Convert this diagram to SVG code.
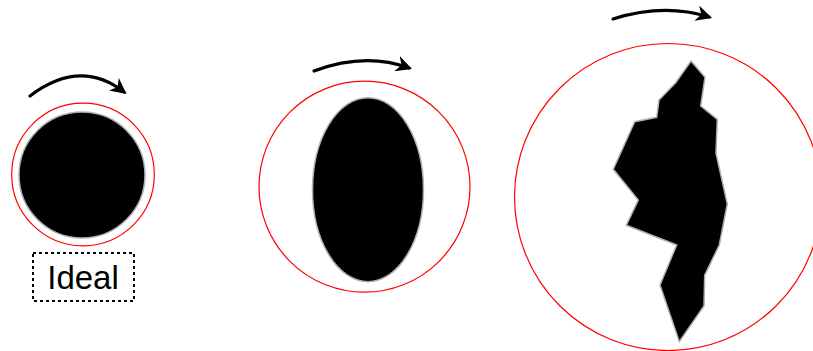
<svg xmlns="http://www.w3.org/2000/svg" width="813" height="351" viewBox="0 0 813 351">
  <style>
    .ring { fill: none; stroke: #ff0000; stroke-width: 1.2; }
    .shape { fill: #000000; stroke: #b0b0b0; stroke-width: 1.5; }
    .rot { fill: none; stroke: #000000; stroke-width: 3.2; stroke-linecap: round; }
    .label { font-family: "Liberation Sans", Arial, sans-serif; font-size: 33px; fill: #000000; }
    .box { fill: none; stroke: #000000; stroke-width: 2; stroke-dasharray: 3 3; }
  </style>
  <defs>
    <marker id="head" viewBox="0 0 10 10" refX="8" refY="5" markerWidth="5" markerHeight="5" markerUnits="strokeWidth" orient="auto">
      <path d="M0,0 L10,5 L0,10 L3,5 Z" fill="#000000"/>
    </marker>
  </defs>
  <g id="ideal">
    <circle class="ring" cx="83" cy="174.5" r="71.3"/>
    <circle class="shape" cx="82" cy="175" r="63"/>
    <rect class="box" x="33" y="253" width="101" height="48"/>
    <text class="label" x="83" y="288.5" text-anchor="middle">Ideal</text>
  </g>
  <g id="oval">
    <circle class="ring" cx="364.5" cy="186.7" r="105.5"/>
    <ellipse class="shape" cx="368" cy="189.7" rx="55.5" ry="92"/>
  </g>
  <g id="irregular">
    <circle class="ring" cx="668" cy="197" r="153.5"/>
    <polygon class="shape" points="691,61 705,77.3 700.7,106 717.3,119.3 716,153.3 727.3,204 719.3,245 704.7,275.3 704,306 679.3,341.7 660,285 676.7,245 626.3,225.3 638.3,200 613.3,169.3 634.7,121.7 656.7,117.3 659,100 675.7,82.7"/>
  </g>
  <g id="connectors">
    <path class="rot" d="M30,96 Q80,58 124,92" marker-end="url(#head)"/>
    <path class="rot" d="M314,71 Q365,52 409,68" marker-end="url(#head)"/>
    <path class="rot" d="M613,19 Q664,3 709,17" marker-end="url(#head)"/>
  </g>
</svg>
